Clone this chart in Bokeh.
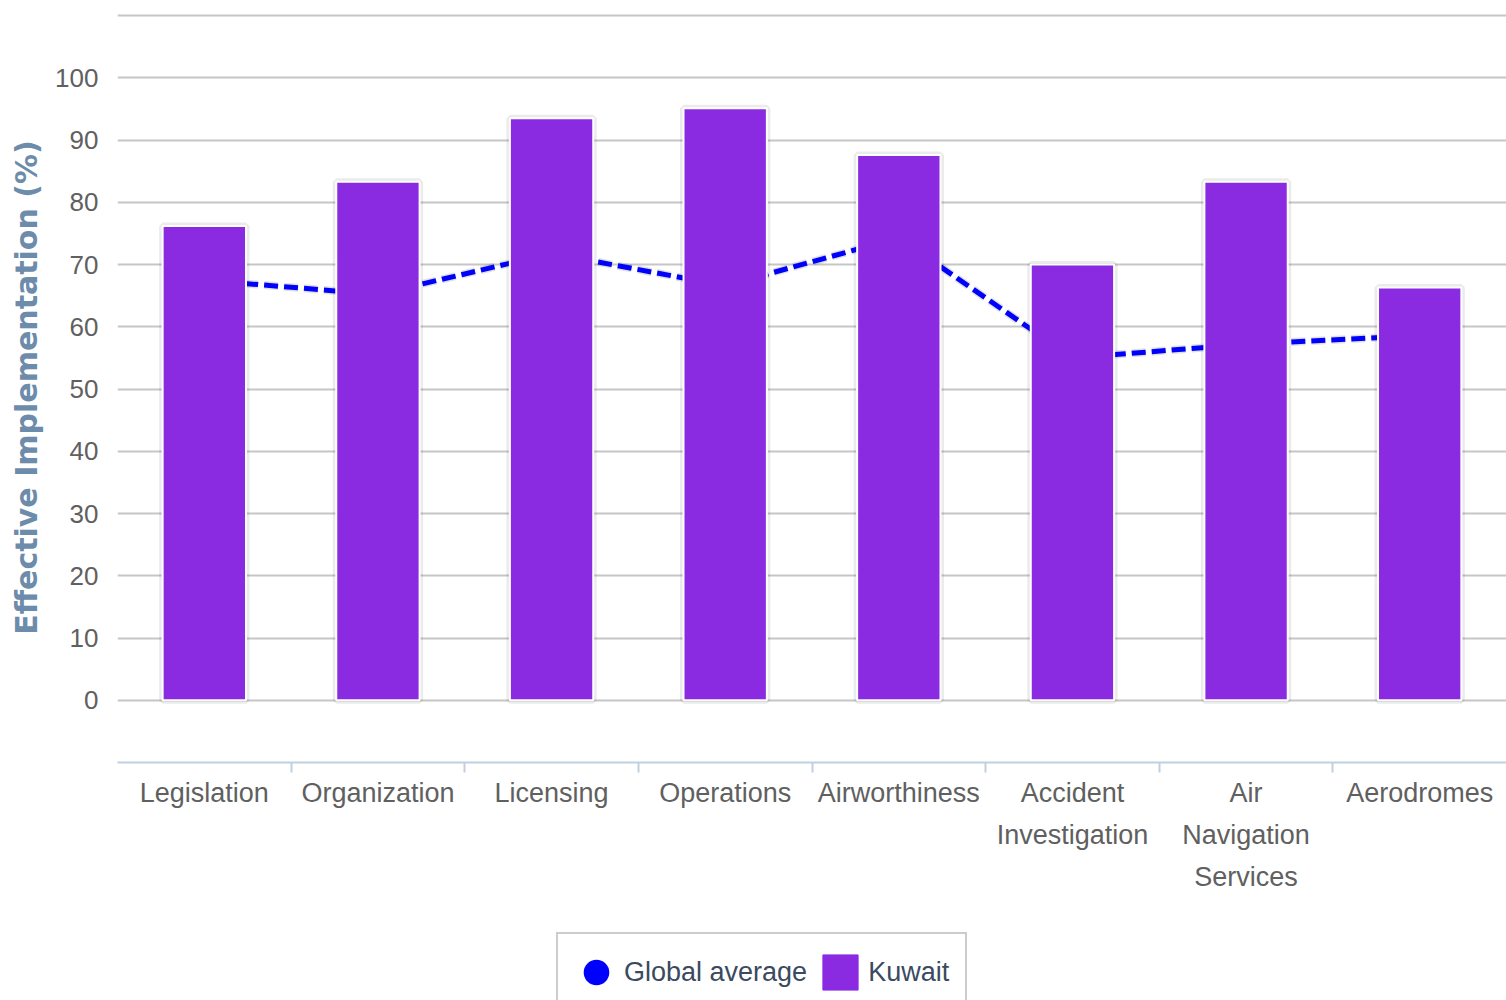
import numpy as np
from bokeh.plotting import figure
from bokeh.layouts import column
from bokeh.models import Range1d, FixedTicker, Legend, LegendItem, ColumnDataSource
from bokeh.embed import file_html
from bokeh.resources import INLINE

categories = ["Legislation", "Organization", "Licensing", "Operations", "Airworthiness",
              "Accident\nInvestigation", "Air\nNavigation\nServices", "Aerodromes"]
kuwait = [76.2, 83.3, 93.5, 95.1, 87.6, 70.0, 83.3, 66.3]
global_avg = [67.5, 65.2, 71.8, 66.6, 74.3, 55.0, 57.2, 58.6]
y_tick_values = [0, 10, 20, 30, 40, 50, 60, 70, 80, 90, 100]
grid_values = [0, 10, 20, 30, 40, 50, 60, 70, 80, 90, 100, 110]
series_names = ["Global average", "Kuwait"]

n = len(categories)
xc = [i + 0.5 for i in range(n)]
bounds = [i for i in range(1, n)]

src = ColumnDataSource(dict(x=xc, kuwait=kuwait, glob=global_avg))

FONT = "Liberation Sans"
BAR = "#8a2be2"
LINE = "#0000ff"

p = figure(width=1506, height=930, x_range=Range1d(0, n), y_range=Range1d(-10, 110.5),
           output_backend="svg", toolbar_location=None,
           min_border_left=117, min_border_right=0, min_border_top=12, min_border_bottom=168)
p.outline_line_color = None
p.background_fill_color = "white"
p.border_fill_color = "white"

p.xgrid.visible = False
p.ygrid.ticker = FixedTicker(ticks=grid_values)
p.ygrid.grid_line_color = "#c6c6c6"
p.ygrid.grid_line_width = 2

# y axis
p.yaxis.ticker = FixedTicker(ticks=y_tick_values)
p.yaxis.axis_line_color = None
p.yaxis.major_tick_line_color = None
p.yaxis.minor_tick_line_color = None
p.yaxis.major_tick_out = 0
p.yaxis.minor_tick_out = 0
p.yaxis.major_label_standoff = 19
p.yaxis.major_label_text_font = FONT
p.yaxis.major_label_text_font_size = "26px"
p.yaxis.major_label_text_color = "#606060"
p.yaxis.axis_label = "Effective Implementation (%)"
p.yaxis.axis_label_text_font = "DejaVu Sans"
p.yaxis.axis_label_text_font_style = "bold"
p.yaxis.axis_label_text_font_size = "30px"
p.yaxis.axis_label_text_color = "#6d8cab"
p.yaxis.axis_label_standoff = 8

# x axis
p.xaxis.ticker = FixedTicker(ticks=xc, minor_ticks=bounds)
p.xaxis.major_label_overrides = {x: c for x, c in zip(xc, categories)}
p.xaxis.axis_line_color = "#c0d0e0"
p.xaxis.axis_line_width = 2
p.xaxis.major_tick_line_color = None
p.xaxis.major_tick_out = 0
p.xaxis.major_tick_in = 0
p.xaxis.minor_tick_line_color = "#c0d0e0"
p.xaxis.minor_tick_line_width = 2
p.xaxis.minor_tick_out = 10
p.xaxis.minor_tick_in = 0
p.xaxis.major_label_standoff = 5
p.xaxis.major_label_text_font = FONT
p.xaxis.major_label_text_font_size = "27px"
p.xaxis.major_label_text_line_height = 1.4
p.xaxis.major_label_text_color = "#606060"

# global average line (behind bars)
p.line("x", "glob", source=src, line_color="black", line_alpha=0.12, line_width=8,
       line_dash="14 6")
p.line("x", "glob", source=src, line_color=LINE, line_width=5, line_dash="14 6")
p.scatter("x", "glob", source=src, size=14, marker="circle",
          fill_color=LINE, line_color=LINE)

# bars
p.vbar(x="x", top="kuwait", bottom=0, width=0.48, source=src, fill_color=None,
       line_color="black", line_alpha=0.08, line_width=7)
p.vbar(x="x", top="kuwait", bottom=0, width=0.48, source=src,
       fill_color=BAR, line_color="white", line_width=2)

# legend strip below the chart
q = figure(width=1506, height=70, x_range=Range1d(0, 1), y_range=Range1d(0, 1),
           output_backend="svg", toolbar_location=None,
           x_axis_location=None, y_axis_location=None,
           min_border_left=0, min_border_right=0, min_border_top=0, min_border_bottom=0)
q.grid.visible = False
q.outline_line_color = None
dsrc = ColumnDataSource(dict(x=[-10], y=[-10]))
mr = q.scatter("x", "y", source=dsrc, size=28, marker="circle", fill_color=LINE,
               line_color=LINE, line_width=8)
br = q.vbar(x="x", top="y", bottom=0, width=0.1, source=dsrc, fill_color=BAR, line_color=BAR)

legend = Legend(items=[LegendItem(label=series_names[0], renderers=[mr]),
                       LegendItem(label=series_names[1], renderers=[br])],
                orientation="horizontal", location=(439, -12))
legend.label_text_font = FONT
legend.label_text_font_size = "27px"
legend.label_text_color = "#3a4a60"
legend.border_line_color = "#9a9a9a"
legend.border_line_width = 2
legend.background_fill_color = "white"
legend.glyph_width = 44
legend.glyph_height = 44
legend.spacing = 11
legend.label_standoff = 6
legend.padding = 16
legend.margin = 0
q.add_layout(legend, "center")

open("out.html", "w").write(file_html(column(p, q, spacing=0), INLINE))
